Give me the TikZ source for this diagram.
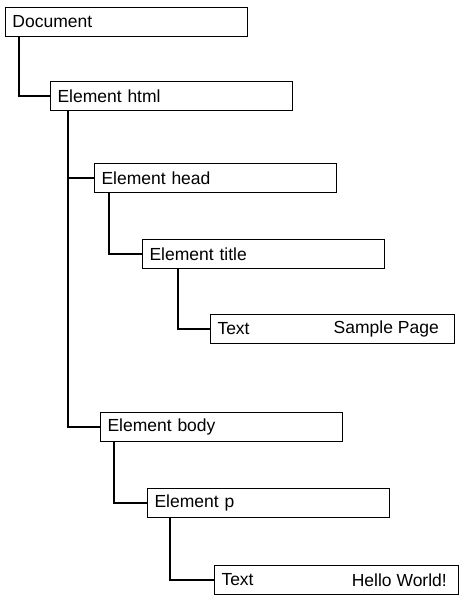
\documentclass[tikz,border=0pt]{standalone}
\usepackage{fontspec}
\setmainfont{Liberation Sans}
\usetikzlibrary{calc, positioning}

\begin{document}
\begin{tikzpicture}[x=1pt, y=-1pt,
                    elbox/.style={draw, line width=1pt, anchor=north west, minimum height=29pt,
                                  inner xsep=7pt, inner ysep=0pt, text width=#1, align=left,
                                  font=\fontsize{17.5}{20}\selectfont},
                    elbox/.default=228pt,
                    valtext/.style={inner sep=0pt, font=\fontsize{17.5}{20}\selectfont},
                    link/.style={line width=2pt}]

    \useasboundingbox (0,0) rectangle (468,603);

    \node[elbox] (doc)   at (5,7)     {Document};
    \node[elbox] (html)  at (50,81)   {Element html};
    \node[elbox] (head)  at (94,163)  {Element head};
    \node[elbox] (title) at (142,239) {Element title};
    \node[elbox=230pt] (txt1) at (210,314) {Text};
    \node[elbox] (body)  at (100,412) {Element body};
    \node[elbox] (p)     at (147,488) {Element p};
    \node[elbox=230pt] (txt2) at (214,565) {Text};

    \node[valtext, left=16pt of txt1.east] (val1) {Sample Page};
    \node[valtext, left=12pt of txt2.east] (val2) {Hello World!};

    \draw[link] ($(doc.south west)+(14,0)$)   |- (html.west);
    \draw[link] ($(html.south west)+(18,0)$)  |- (head.west);
    \draw[link] ($(html.south west)+(18,0)$)  |- (body.west);
    \draw[link] ($(head.south west)+(15,0)$)  |- (title.west);
    \draw[link] ($(title.south west)+(36,0)$) |- (txt1.west);
    \draw[link] ($(body.south west)+(14,0)$)  |- (p.west);
    \draw[link] ($(p.south west)+(23,0)$)     |- (txt2.west);
\end{tikzpicture}
\end{document}
